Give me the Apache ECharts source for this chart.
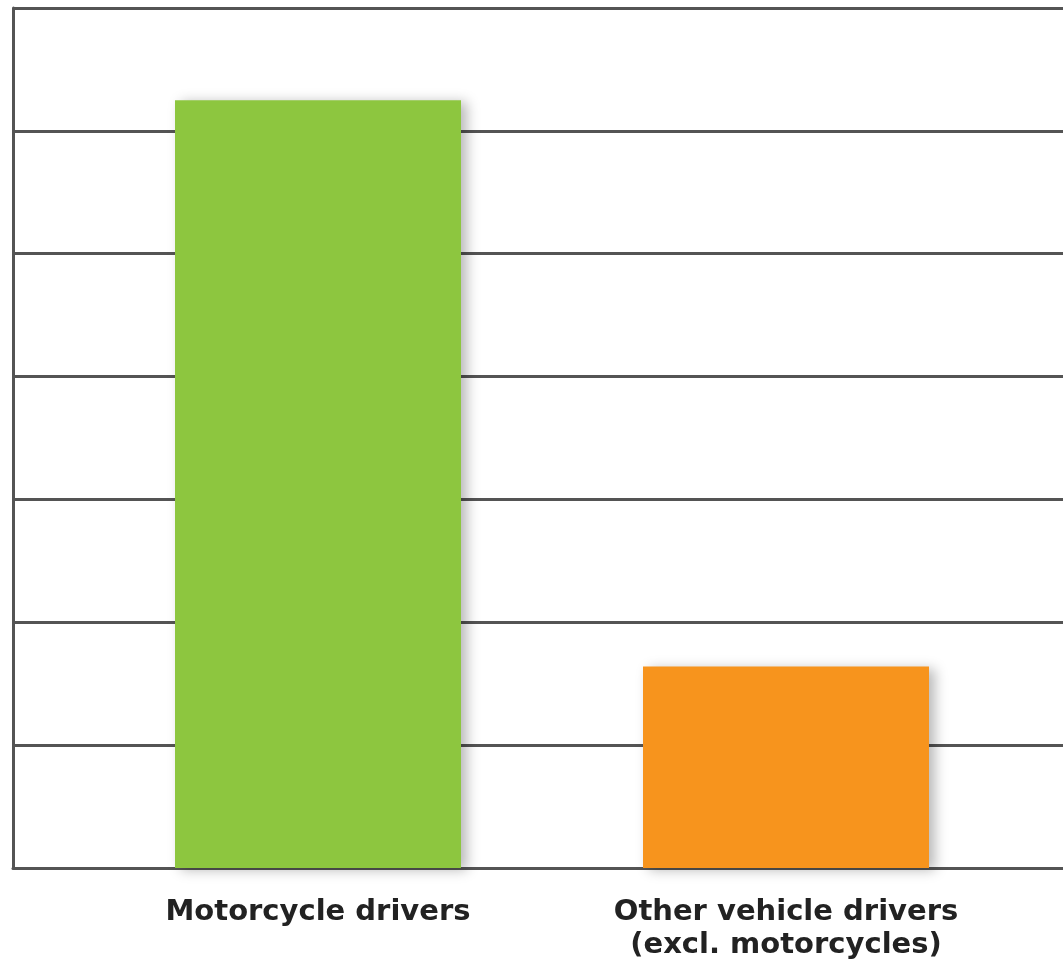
<!DOCTYPE html>
<html>
<head>
<meta charset="utf-8">
<script src="https://cdn.jsdelivr.net/npm/echarts@6/dist/echarts.min.js"></script>
<style>
  html, body { margin: 0; padding: 0; background: #fff; }
  #chart { width: 1063px; height: 967px; }
</style>
</head>
<body>
<div id="chart"></div>
<script>
// data (unlabelled y scale, 7 gridline steps)
const categories = ['Motorcycle drivers', 'Other vehicle drivers\n(excl. motorcycles)']
const values = [6.25, 1.64]
const barColors = ['#8DC63F', '#F7941D']
const yMin = 0
const yMax = 7
const yStep = 1

const chart = echarts.init(document.getElementById('chart'))

const lineColor = '#545454'
const gridTop = 8
const gridBottom = 99

chart.setOption({
  animation: false,
  grid: [
    // frame + gridlines, spans to the right edge
    { left: 13, right: -4, top: gridTop, bottom: gridBottom },
    // bars
    { left: 84, width: 936, top: gridTop, bottom: gridBottom }
  ],
  xAxis: [
    {
      gridIndex: 0,
      type: 'category',
      data: categories,
      axisLine: { show: true, lineStyle: { color: lineColor, width: 3 } },
      axisTick: { show: false },
      axisLabel: { show: false }
    },
    {
      gridIndex: 1,
      type: 'category',
      data: categories,
      axisLine: { show: false },
      axisTick: { show: false },
      axisLabel: {
        color: '#222',
        fontFamily: 'DejaVu Sans',
        fontWeight: 'bold',
        fontSize: 29,
        lineHeight: 33,
        margin: 28,
        verticalAlign: 'top'
      }
    }
  ],
  yAxis: [
    {
      gridIndex: 0,
      type: 'value',
      min: yMin,
      max: yMax,
      interval: yStep,
      axisLine: { show: true, lineStyle: { color: lineColor, width: 3 } },
      axisTick: { show: false },
      axisLabel: { show: false },
      splitLine: { show: true, lineStyle: { color: lineColor, width: 3 } }
    },
    {
      gridIndex: 1,
      type: 'value',
      min: yMin,
      max: yMax,
      interval: yStep,
      show: false,
      splitLine: { show: false }
    }
  ],
  series: [
    {
      type: 'bar',
      xAxisIndex: 1,
      yAxisIndex: 1,
      barWidth: 286,
      data: values.map((v, i) => ({
        value: v,
        itemStyle: { color: barColors[i] }
      })),
      itemStyle: {
        shadowColor: 'rgba(0,0,0,0.28)',
        shadowBlur: 12,
        shadowOffsetX: 6,
        shadowOffsetY: 2
      }
    }
  ]
})
</script>
</body>
</html>
